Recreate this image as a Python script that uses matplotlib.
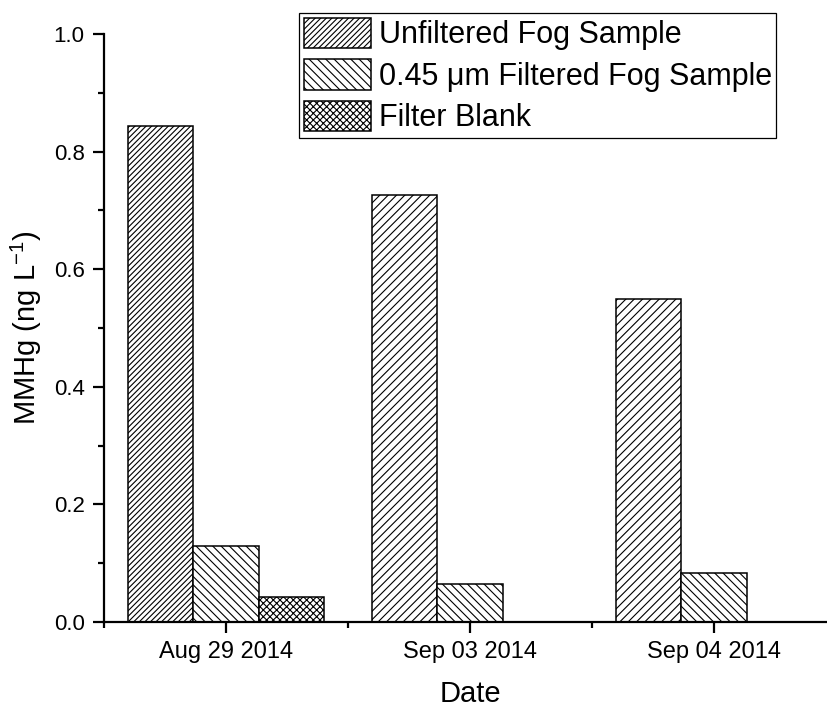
import matplotlib
matplotlib.use('Agg')
import matplotlib.pyplot as plt
import numpy as np
from matplotlib.ticker import MultipleLocator, FormatStrFormatter
from matplotlib.patches import Patch

# ---- data ----
dates = ['Aug 29 2014', 'Sep 03 2014', 'Sep 04 2014']
unfiltered = [0.843, 0.727, 0.549]
filtered = [0.129, 0.065, 0.083]
blank = [0.043, None, None]
series_labels = ['Unfiltered Fog Sample', '0.45 \u03bcm Filtered Fog Sample', 'Filter Blank']

plt.rcParams['font.family'] = ['Liberation Sans', 'DejaVu Sans']
plt.rcParams['mathtext.default'] = 'regular'
plt.rcParams['hatch.linewidth'] = 0.8

fig = plt.figure(figsize=(8.28, 7.09), dpi=100)
ax = fig.add_axes([104 / 828, 87 / 709, (836 - 104) / 828, (622 - 34) / 709])

x = np.arange(len(dates))
w = 0.267
unf_hatches = ['//////', '////', '////']
filt_hatch = '\\\\\\\\'
blank_hatch = 'xxxxx'

for i, v in enumerate(unfiltered):
    ax.bar(x[i] - w, v, width=w, facecolor='white', edgecolor='black',
           linewidth=1.1, hatch=unf_hatches[i])
for i, v in enumerate(filtered):
    ax.bar(x[i], v, width=w, facecolor='white', edgecolor='black',
           linewidth=1.1, hatch=filt_hatch)
for i, v in enumerate(blank):
    if v is not None:
        ax.bar(x[i] + w, v, width=w, facecolor='white', edgecolor='black',
               linewidth=1.1, hatch=blank_hatch)

ax.set_xlim(-0.5, 2.5)
ax.set_ylim(0, 1.0)
ax.set_xticks(x)
ax.set_xticklabels(dates)
ax.xaxis.set_minor_locator(MultipleLocator(1.0, offset=0.5))
ax.yaxis.set_major_locator(MultipleLocator(0.2))
ax.yaxis.set_minor_locator(MultipleLocator(0.1))
ax.yaxis.set_major_formatter(FormatStrFormatter('%.1f'))

for s in ['top', 'right']:
    ax.spines[s].set_visible(False)
for s in ['left', 'bottom']:
    ax.spines[s].set_linewidth(1.6)

ax.tick_params(which='major', direction='out', length=8, width=1.6, pad=6)
ax.tick_params(which='minor', direction='out', length=4.5, width=1.6)
ax.tick_params(axis='y', which='major', labelsize=16)
ax.tick_params(axis='x', which='major', labelsize=17)

ax.set_xlabel('Date', fontsize=21, labelpad=12)
ax.set_ylabel('MMHg (ng L$^{-1}$)', fontsize=21, labelpad=7)

handles = [
    Patch(facecolor='white', edgecolor='black', linewidth=1.1, hatch='//////'),
    Patch(facecolor='white', edgecolor='black', linewidth=1.1, hatch=filt_hatch),
    Patch(facecolor='white', edgecolor='black', linewidth=1.1, hatch=blank_hatch),
]
leg = ax.legend(handles, series_labels, loc='upper left',
                bbox_to_anchor=(299 / 828, 1 - 13 / 709), bbox_transform=fig.transFigure,
                fontsize=22, frameon=True, fancybox=False, edgecolor='black',
                framealpha=1, handlelength=2.2, handleheight=1.15, handletextpad=0.26,
                labelspacing=0.3, borderpad=0.15, borderaxespad=0)
leg.get_frame().set_linewidth(0.9)

fig.savefig('out.png', dpi=100)
